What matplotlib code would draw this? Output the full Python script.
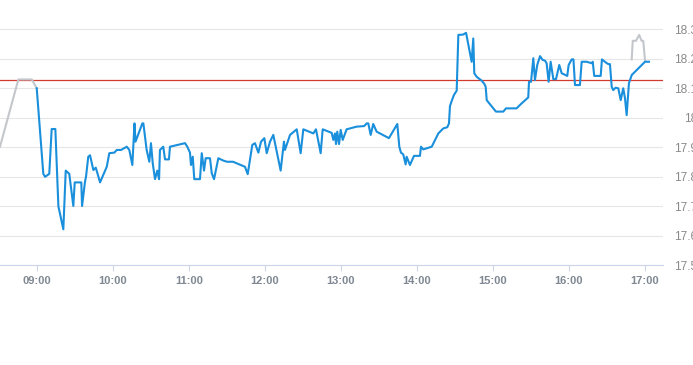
import matplotlib
matplotlib.use("Agg")
import matplotlib.pyplot as plt
from matplotlib.ticker import FixedLocator, FuncFormatter

# ---- data (minutes after 09:00, price) ----
main_minutes = [0, 5.2, 6.6, 9.9, 11.8, 14.7, 17.1, 21.0, 22.9, 25.7, 28.9, 30.0, 35.2, 35.8,
                38.1, 38.9, 40.7, 42.1, 44.7, 46.6, 47.8, 50.0, 55.3, 57.3, 61.3, 63.2, 66.6,
                71.1, 73.1, 75.5, 77.2, 78.0, 83.4, 84.2, 86.8, 88.9, 90.2, 91.6, 93.4, 95.2,
                96.6, 97.3, 99.9, 101.3, 104.4, 105.2, 117.1, 118.9, 121.0, 121.8, 123.2, 124.4,
                128.9, 130.3, 132.1, 133.4, 136.8, 138.2, 140.0, 143.4, 147.3, 150.2, 155.0,
                164.4, 166.6, 170.2, 172.3, 175.0, 177.1, 179.7, 181.6, 184.2, 186.8, 192.6,
                195.2, 196.0, 200.0, 205.3, 208.4, 210.5, 218.4, 220.5, 224.2, 225.8, 232.9,
                234.2, 235.5, 236.3, 237.3, 238.7, 240.0, 241.6, 244.7, 252.6, 258.6, 260.5,
                261.8, 263.7, 265.7, 268.4, 278.1, 284.7, 286.3, 287.6, 289.4, 291.3, 292.1,
                294.7, 297.9, 302.6, 303.4, 305.2, 311.9, 317.1, 321.0, 324.2, 325.5, 326.3,
                327.9, 329.4, 331.6, 332.9, 336.6, 339.0, 343.4, 344.7, 345.5, 347.4, 351.3,
                353.4, 354.5, 355.3, 357.3, 362.6, 368.4, 370.5, 378.9, 382.9, 388.1, 388.7,
                390.3, 392.1, 393.4, 395.2, 397.4, 399.5, 401.3, 402.6, 404.2, 405.8, 407.9,
                410.0, 412.6, 414.5, 418.9, 420.0, 422.4, 423.8, 425.0, 428.9, 430.3, 434.2,
                438.2, 439.0, 440.2, 445.3, 446.3, 449.5, 451.3, 452.6, 454.0, 455.2, 457.1,
                459.2, 461.1, 463.1, 464.5, 465.8, 467.6, 469.8, 480.3, 483.4]
main_prices = [18.100, 17.810, 17.800, 17.810, 17.962, 17.962, 17.700, 17.622, 17.821, 17.810,
               17.701, 17.781, 17.781, 17.701, 17.783, 17.800, 17.868, 17.873, 17.823, 17.831,
               17.814, 17.781, 17.834, 17.880, 17.882, 17.891, 17.891, 17.902, 17.891, 17.840,
               17.981, 17.919, 17.981, 17.981, 17.891, 17.851, 17.914, 17.846, 17.792, 17.821,
               17.792, 17.891, 17.902, 17.859, 17.859, 17.902, 17.914, 17.902, 17.882, 17.840,
               17.868, 17.792, 17.792, 17.880, 17.821, 17.863, 17.863, 17.812, 17.792, 17.863,
               17.855, 17.851, 17.851, 17.834, 17.809, 17.908, 17.914, 17.882, 17.919, 17.931,
               17.880, 17.919, 17.942, 17.821, 17.919, 17.891, 17.942, 17.961, 17.880, 17.961,
               17.947, 17.961, 17.880, 17.961, 17.949, 17.925, 17.947, 17.911, 17.953, 17.911,
               17.959, 17.925, 17.961, 17.970, 17.972, 17.981, 17.981, 17.942, 17.979, 17.953,
               17.931, 17.979, 17.902, 17.882, 17.876, 17.842, 17.868, 17.840, 17.871, 17.871,
               17.902, 17.893, 17.902, 17.947, 17.964, 17.968, 17.981, 18.040, 18.060, 18.077,
               18.092, 18.281, 18.282, 18.288, 18.190, 18.269, 18.151, 18.139, 18.126, 18.115,
               18.105, 18.060, 18.049, 18.021, 18.021, 18.032, 18.032, 18.049, 18.069, 18.122,
               18.122, 18.202, 18.128, 18.179, 18.209, 18.196, 18.194, 18.185, 18.122, 18.190,
               18.131, 18.131, 18.179, 18.151, 18.142, 18.179, 18.198, 18.198, 18.111, 18.111,
               18.190, 18.190, 18.185, 18.190, 18.142, 18.142, 18.198, 18.187, 18.182, 18.182,
               18.105, 18.094, 18.102, 18.100, 18.060, 18.100, 18.066, 18.009, 18.117, 18.145,
               18.190, 18.190]

pre_minutes = [-29.0, -14.5, -3.9, 0]
pre_prices = [17.902, 18.130, 18.130, 18.100]

post_minutes = [469.8, 470.6, 473.2, 475.7, 477.6, 478.9, 480.3]
post_prices = [18.198, 18.261, 18.261, 18.281, 18.261, 18.261, 18.194]

reference_price = 18.127

x_tick_minutes = [0, 60, 120, 180, 240, 300, 360, 420, 480]
x_tick_labels = ["09:00", "10:00", "11:00", "12:00", "13:00", "14:00", "15:00", "16:00", "17:00"]
y_ticks = [17.5, 17.6, 17.7, 17.8, 17.9, 18.0, 18.1, 18.2, 18.3]

# ---- figure ----
W, H = 693, 365
fig = plt.figure(figsize=(W / 100, H / 100), dpi=100)
ax_left, ax_right = 0, 663
ax_bottom, ax_top = 265.3, 23.4
ax = fig.add_axes([ax_left / W, (H - ax_bottom) / H,
                   (ax_right - ax_left) / W, (ax_bottom - ax_top) / H])

ax.set_xlim(-29.0, 494.5)
ax.set_ylim(17.5, 18.32)

ax.yaxis.set_major_locator(FixedLocator(y_ticks))
ax.yaxis.set_major_formatter(FuncFormatter(lambda v, p: f"{v:g}"))
ax.yaxis.grid(True, color="#e6e6e6", lw=0.8)
ax.set_axisbelow(True)
ax.yaxis.tick_right()
ax.tick_params(axis="y", length=0, pad=24.5, labelsize=8.6, labelcolor="#8a8a8a")
for lbl in ax.get_yticklabels():
    lbl.set_horizontalalignment("right")

ax.set_xticks(x_tick_minutes)
ax.set_xticklabels(x_tick_labels)
ax.tick_params(axis="x", length=4.5, width=0.8, color="#ccd6eb", pad=3.5,
               labelsize=8.0, labelcolor="#7f8792")

for s in ["top", "left", "right"]:
    ax.spines[s].set_visible(False)
ax.spines["bottom"].set_color("#ccd6eb")
ax.spines["bottom"].set_linewidth(0.8)

for t in ax.get_xticklabels() + ax.get_yticklabels():
    t.set_fontfamily("Liberation Sans")
for t in ax.get_xticklabels():
    t.set_fontweight("bold")

ax.axhline(reference_price, color="#d23a30", lw=0.9, zorder=2)
ax.plot(pre_minutes, pre_prices, color="#c3c7cc", lw=1.5, zorder=3, solid_joinstyle="round")
ax.plot(post_minutes, post_prices, color="#c3c7cc", lw=1.5, zorder=3, solid_joinstyle="round")
ax.plot(main_minutes, main_prices, color="#1a8fdc", lw=1.5, zorder=4, solid_joinstyle="round",
        clip_on=False)

fig.savefig("out.png", dpi=100)
